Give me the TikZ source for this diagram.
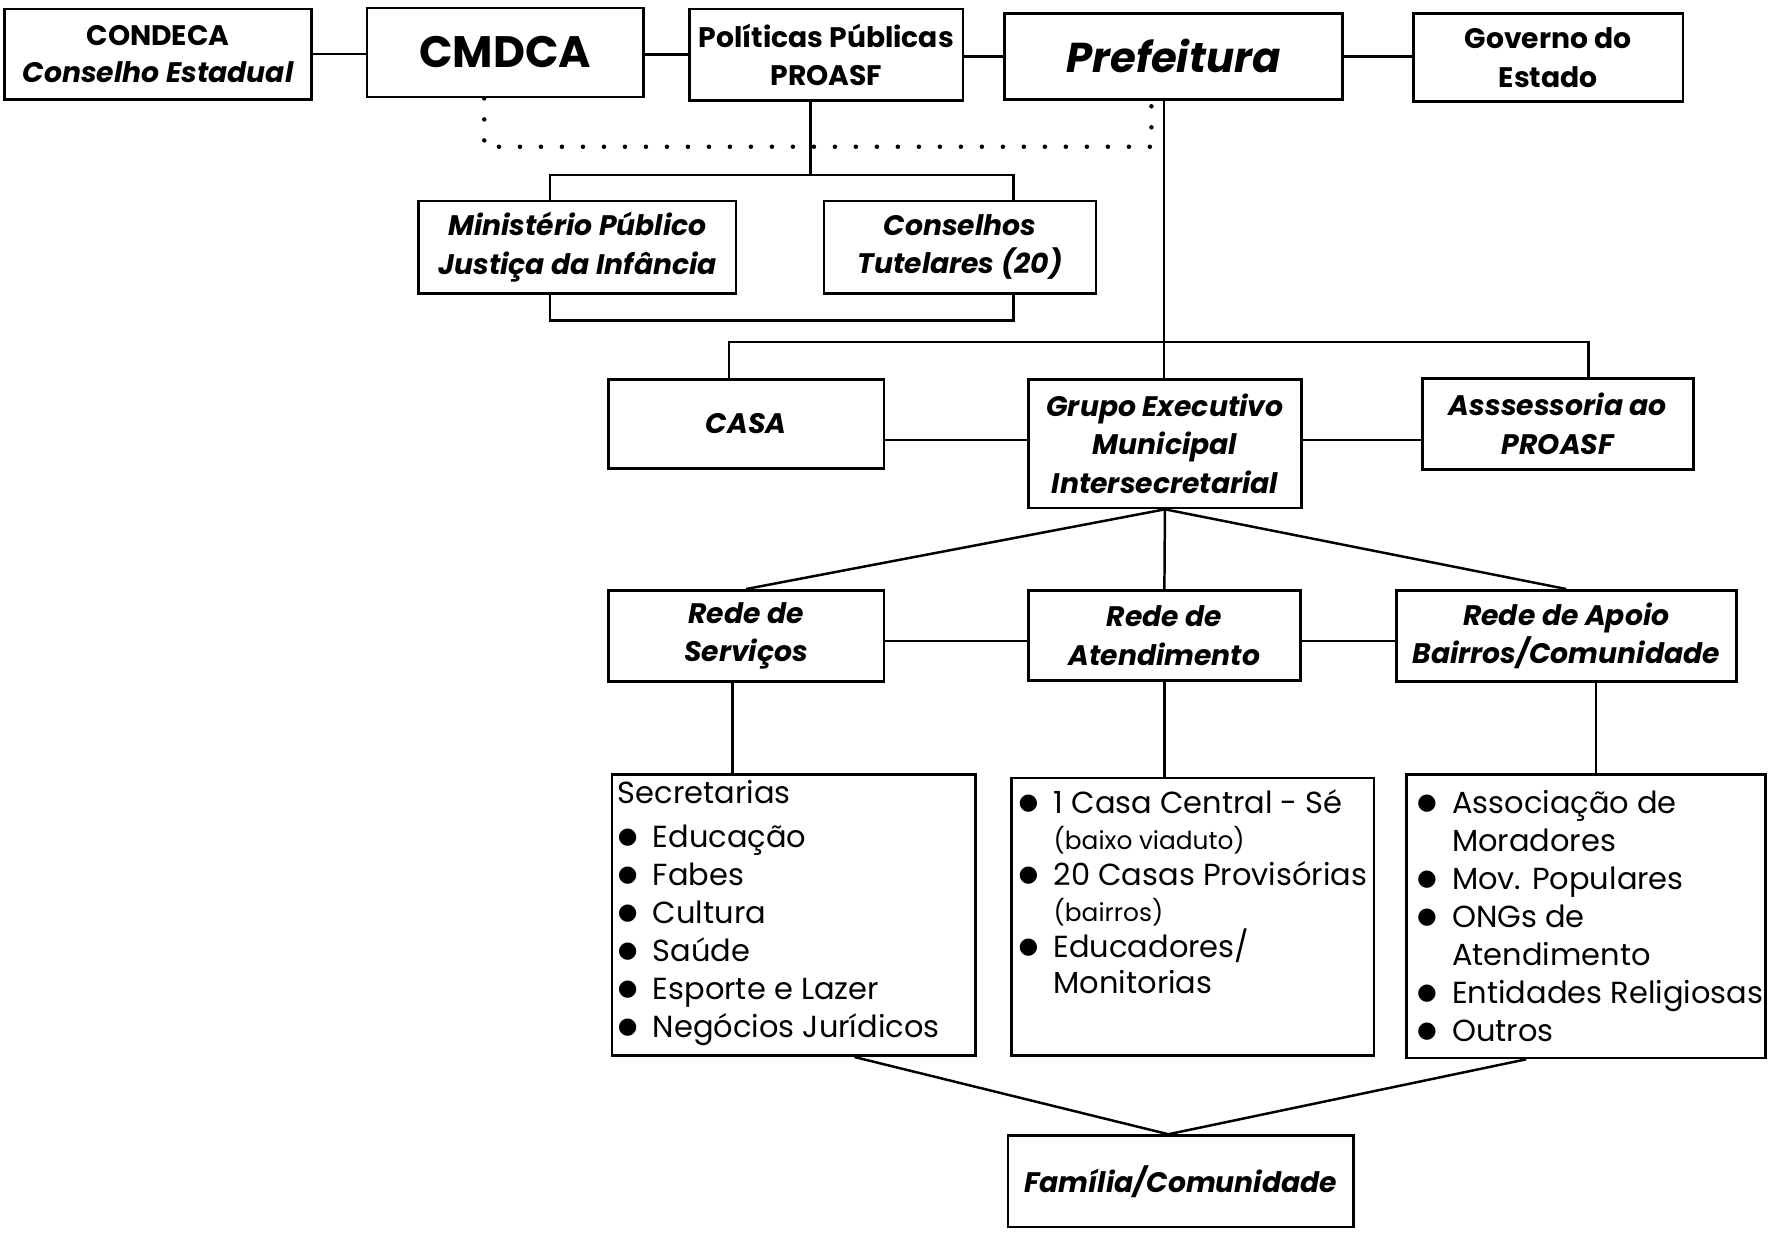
\documentclass[tikz,border=0pt]{standalone}
\usepackage{fontspec}
\setmainfont{Poppins}
\newfontfamily\bulfont{DejaVu Sans}
\newcommand\tfont{\bfseries\itshape\fontsize{12.5pt}{17pt}\selectfont}
\newcommand\blt{\makebox[15.5pt][l]{\raisebox{1.8pt}{\bulfont\fontsize{10pt}{10pt}\selectfont ●}}}
\newcommand\indnt{\hspace*{15.5pt}}

\begin{document}
\begin{tikzpicture}[x=0.5pt,y=-0.5pt,
	box/.style={draw,line width=1.2pt,inner sep=0pt,align=center,font=\tfont},
	list/.style={inner sep=0pt,align=left,font=\fontsize{13.5pt}{16.8pt}\selectfont},
	link/.style={line width=1.1pt},
	dots/.style={line width=2pt,line cap=round,dash pattern=on 0pt off 9.3pt}]
	\path[use as bounding box,fill=white] (0,0) rectangle (1568,1095);
	% topo
	\node[box,minimum width=136pt,minimum height=40pt,font=\bfseries\fontsize{12.5pt}{16.5pt}\selectfont] (condeca) at (140,48) {CONDECA\\\itshape Conselho Estadual};
	\node[box,minimum width=122.5pt,minimum height=39.5pt,font=\bfseries\fontsize{19.5pt}{22pt}\selectfont] (cmdca) at (447.5,46.5) {CMDCA};
	\node[box,minimum width=121pt,minimum height=40.5pt,font=\bfseries\fontsize{12.5pt}{17pt}\selectfont] (pol) at (732,48.5) {Políticas Públicas\\PROASF};
	\node[box,minimum width=149.5pt,minimum height=38pt,font=\bfseries\itshape\fontsize{18.5pt}{22pt}\selectfont] (pref) at (1039.5,50) {Prefeitura};
	\node[box,minimum width=119.5pt,minimum height=39pt,font=\bfseries\fontsize{12.5pt}{17pt}\selectfont] (gov) at (1371.5,51) {Governo do\\Estado};
	\node[box,minimum width=140.5pt,minimum height=41pt] (mp) at (511.5,219) {Ministério Público\\Justiça da Infância};
	\node[box,minimum width=120.5pt,minimum height=41pt] (cons) at (850.5,219) {Conselhos\\Tutelares (20)};
	% grupo executivo
	\node[box,minimum width=122pt,minimum height=39.5pt] (casa) at (661,375.5) {CASA};
	\node[box,minimum width=121pt,minimum height=57pt] (gem) at (1032,393) {Grupo Executivo\\Municipal\\Intersecretarial};
	\node[box,minimum width=120pt,minimum height=40.5pt] (ass) at (1380,375.5) {Asssessoria ao\\PROASF};
	% redes
	\node[box,minimum width=122pt,minimum height=40.5pt] (serv) at (661,563.5) {Rede de\\Serviços};
	\node[box,minimum width=120.5pt,minimum height=40pt] (aten) at (1031.5,563) {Rede de\\Atendimento};
	\node[box,minimum width=150.5pt,minimum height=40.5pt] (apoio) at (1387.5,563.5) {Rede de Apoio\\Bairros/Comunidade};
	% listas
	\node[box,anchor=north west,minimum width=161pt,minimum height=124.5pt] (sec) at (541,685) {};
	\node[box,anchor=north west,minimum width=160.5pt,minimum height=123pt] (atl) at (895,688) {};
	\node[box,anchor=north west,minimum width=159pt,minimum height=125.5pt] (apl) at (1245,685) {};
	\node[list,anchor=north west] (sectxt) at (547,691) {Secretarias\\[2.7pt]
		\blt Educação\\ \blt Fabes\\ \blt Cultura\\ \blt Saúde\\ \blt Esporte e Lazer\\ \blt Negócios Jurídicos};
	\node[list,anchor=north west,font=\fontsize{13.5pt}{16pt}\selectfont] (atltxt) at (902,699) {\blt 1 Casa Central - Sé\\
		\indnt{\fontsize{11pt}{16pt}\selectfont (baixo viaduto)}\\
		\blt 20 Casas Provisórias\\
		\indnt{\fontsize{11pt}{16pt}\selectfont (bairros)}\\
		\blt Educadores/\\ \indnt Monitorias};
	\node[list,anchor=north west] (apltxt) at (1255,700) {\blt Associação de\\ \indnt Moradores\\ \blt Mov. Populares\\
		\blt ONGs de\\ \indnt Atendimento\\ \blt Entidades Religiosas\\ \blt Outros};
	\node[box,minimum width=153pt,minimum height=40.5pt] (fam) at (1046,1046.5) {Família/Comunidade};

	\draw[link] (condeca.east) -- (condeca.east -| cmdca.west);
	\draw[link] (pol.west) -- (pol.west -| cmdca.east);
	\draw[link] (pref.west) -- (pref.west -| pol.east);
	\draw[link] (pref.east) -- (pref.east -| gov.west);
	% pontilhado CMDCA - Prefeitura
	\coordinate (dl) at (429,130);
	\coordinate (dr) at (1020,130);
	\draw[dots] (dl |- cmdca.south) -- (dl) -- (dr) -- (dr |- pref.south);
	\coordinate (pj) at (718,155);
	\coordinate (bl) at (487,155);
	\coordinate (br) at (898,155);
	\draw[link] (pj |- pol.south) -- (pj);
	\draw[link] (bl |- mp.north) -- (bl) -- (br) -- (br |- cons.north);
	\coordinate (ul) at (487,284);
	\coordinate (ur) at (898,284);
	\draw[link] (ul |- mp.south) -- (ul) -- (ur) -- (ur |- cons.south);
	\coordinate (pv) at (1031,303);
	\coordinate (cl) at (646,303);
	\coordinate (cr) at (1407,303);
	\draw[link] (pv |- pref.south) -- (pv |- gem.north);
	\draw[link] (cl |- casa.north) -- (cl) -- (cr) -- (cr |- ass.north);
	\coordinate (h1) at (0,390);
	\draw[link] (casa.east |- h1) -- (gem.west |- h1);
	\draw[link] (gem.east |- h1) -- (ass.west |- h1);
	\draw[link] (gem.south) -- (serv.north);
	\draw[link] (gem.south) -- (aten.north);
	\draw[link] (gem.south) -- (apoio.north);
	\coordinate (h2) at (0,568);
	\draw[link] (serv.east |- h2) -- (aten.west |- h2);
	\draw[link] (aten.east |- h2) -- (apoio.west |- h2);
	\coordinate (v1) at (649,0);
	\coordinate (v3) at (1414,0);
	\draw[link] (v1 |- serv.south) -- (v1 |- sec.north);
	\draw[link] (aten.south) -- (aten.south |- atl.north);
	\draw[link] (v3 |- apoio.south) -- (v3 |- apl.north);
	\coordinate (fj) at (1035,0);
	\coordinate (s1) at (757,0);
	\coordinate (s3) at (1352,0);
	\draw[link] (s1 |- sec.south) -- (fj |- fam.north) -- (s3 |- apl.south);
\end{tikzpicture}
\end{document}
